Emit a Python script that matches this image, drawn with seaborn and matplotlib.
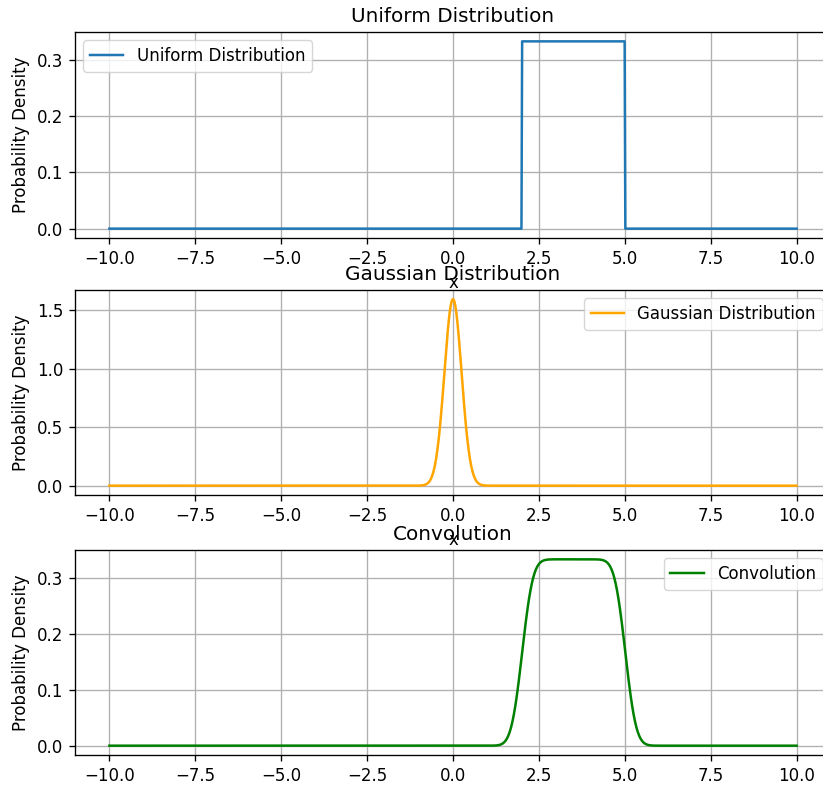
import numpy as np
import pandas as pd
import matplotlib
matplotlib.use("Agg")
import matplotlib.pyplot as plt
import seaborn as sns

# Parameters
x_min, x_max, n_points = -10.0, 10.0, 1000
uniform_low, uniform_high = 2.0, 5.0
gauss_mean, gauss_sigma = 0.0, 0.25

titles = ["Uniform Distribution", "Gaussian Distribution", "Convolution"]
labels = ["Uniform Distribution", "Gaussian Distribution", "Convolution"]
colors = ["#1f77b4", "orange", "green"]
legend_locs = ["upper left", "upper right", "upper right"]

x = np.linspace(x_min, x_max, n_points)
dx = x[1] - x[0]
uniform_pdf = np.where((x >= uniform_low) & (x <= uniform_high),
                       1.0 / (uniform_high - uniform_low), 0.0)
gauss_pdf = np.exp(-0.5 * ((x - gauss_mean) / gauss_sigma) ** 2) / (gauss_sigma * np.sqrt(2 * np.pi))
conv_pdf = np.convolve(uniform_pdf, gauss_pdf, mode="same") * dx

series = [uniform_pdf, gauss_pdf, conv_pdf]

s = 1.2
plt.rcParams.update({
    "font.size": 10 * s,
    "axes.titlesize": 12 * s,
    "axes.labelsize": 10 * s,
    "xtick.labelsize": 10 * s,
    "ytick.labelsize": 10 * s,
    "legend.fontsize": 10 * s,
    "xtick.major.size": 3.5 * s,
    "ytick.major.size": 3.5 * s,
    "xtick.major.pad": 3.5 * s,
    "ytick.major.pad": 3.5 * s,
    "axes.titlepad": 6 * s,
    "axes.linewidth": 0.8 * s,
    "grid.linewidth": 0.8 * s,
    "xtick.major.width": 0.8 * s,
    "ytick.major.width": 0.8 * s,
    "axes.labelpad": 4 * s,
})

fig = plt.figure(figsize=(8.23, 7.87), dpi=100)
W, H = 823.0, 787.0
left_px, right_px = 75.0, 831.0
boxes = [(32.0, 238.0), (290.0, 495.0), (550.0, 755.0)]

for i, (top, bot) in enumerate(boxes):
    ax = fig.add_axes([left_px / W, 1 - bot / H, (right_px - left_px) / W, (bot - top) / H])
    df = pd.DataFrame({"x": x, "y": series[i]})
    sns.lineplot(data=df, x="x", y="y", ax=ax, color=colors[i], label=labels[i], linewidth=1.5 * s)
    ax.set_title(titles[i])
    ax.set_xlabel("x")
    ax.set_ylabel("Probability Density")
    ax.grid(True)
    ax.legend(loc=legend_locs[i])

fig.savefig("out.png", dpi=100)
